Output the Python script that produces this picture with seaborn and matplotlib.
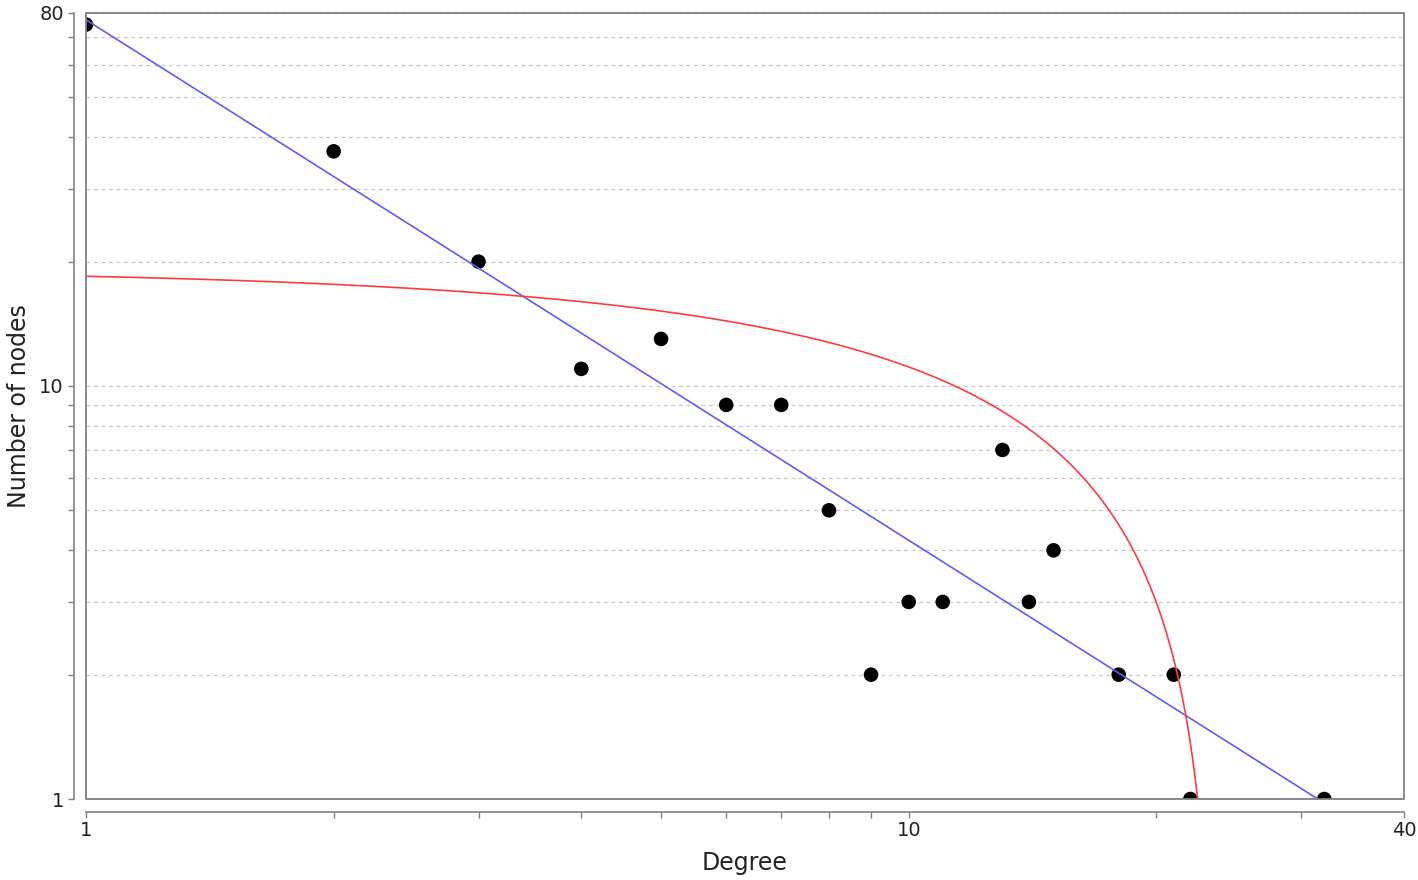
import matplotlib
matplotlib.use("Agg")
import matplotlib.pyplot as plt
from matplotlib.patches import Rectangle
import numpy as np
import pandas as pd
import seaborn as sns

# degree distribution
degree = [1, 2, 3, 4, 5, 6, 7, 8, 9, 10, 11, 13, 14, 15, 18, 21, 22, 32]
nodes = [75, 37, 20, 11, 13, 9, 9, 5, 2, 3, 3, 7, 3, 4, 2, 2, 1, 1]

# fitted curves: power law (blue) and linear (red), parameters
power_coef, power_exp = 77.0, -1.26
lin_intercept, lin_slope = 19.25, -0.813

x_ticks = [1, 10, 40]
y_ticks = [1, 10, 80]

df = pd.DataFrame({"degree": degree, "nodes": nodes})

xs = np.geomspace(1, 40, 800)
df_pow = pd.DataFrame({"degree": xs, "nodes": power_coef * xs ** power_exp})
xl = np.linspace(1, 24, 3000)
yl = lin_intercept + lin_slope * xl
df_lin = pd.DataFrame({"degree": xl[yl > 0.5], "nodes": yl[yl > 0.5]})

sns.set_theme(style="white")
plt.rcParams["font.family"] = ["DejaVu Sans"]

fig = plt.figure(figsize=(14.18, 8.8), dpi=100)
ax = fig.add_axes([86 / 1418, 1 - 799 / 880, (1404 - 86) / 1418, (799 - 13) / 880])

sns.scatterplot(data=df, x="degree", y="nodes", ax=ax, color="black", s=110,
                edgecolor="none", zorder=3)
sns.lineplot(data=df_pow, x="degree", y="nodes", ax=ax, color="#5c5cff",
             linewidth=1.2, sort=False, zorder=4)
sns.lineplot(data=df_lin, x="degree", y="nodes", ax=ax, color="#ff3b3b",
             linewidth=1.2, sort=False, zorder=4)

ax.set_xscale("log")
ax.set_yscale("log")
ax.set_xlim(1, 40)
ax.set_ylim(1, 80)

ax.set_xticks(x_ticks)
ax.set_xticklabels([str(t) for t in x_ticks])
ax.set_xticks([2, 3, 4, 5, 6, 7, 8, 9, 20, 30], minor=True)
ax.set_yticks(y_ticks)
ax.set_yticklabels([str(t) for t in y_ticks])
ax.set_yticks([2, 3, 4, 5, 6, 7, 8, 9, 20, 30, 40, 50, 60, 70], minor=True)
ax.xaxis.set_minor_formatter(plt.NullFormatter())
ax.yaxis.set_minor_formatter(plt.NullFormatter())

# horizontal dashed grid
ax.yaxis.grid(True, which="both", color="#c8c8c8", linestyle=(0, (3, 3)), linewidth=0.9)
ax.xaxis.grid(False)
ax.set_axisbelow(True)

# axis lines drawn apart from the plot frame
for side in ["top", "right"]:
    ax.spines[side].set_visible(False)
for side in ["left", "bottom"]:
    ax.spines[side].set_position(("outward", 9))
    ax.spines[side].set_color("#808080")
    ax.spines[side].set_linewidth(1.2)
ax.add_patch(Rectangle((0, 0), 1, 1, transform=ax.transAxes, fill=False,
                       edgecolor="#808080", linewidth=1.3, clip_on=False, zorder=5))

ax.tick_params(which="both", direction="out", length=4, width=1, color="#808080",
               left=True, bottom=True, labelsize=14, labelcolor="#222222", pad=3)

ax.set_xlabel("Degree", fontsize=17, color="#222222", labelpad=8)
ax.set_ylabel("Number of nodes", fontsize=17, color="#222222", labelpad=6)

fig.savefig("out.png", dpi=100)
